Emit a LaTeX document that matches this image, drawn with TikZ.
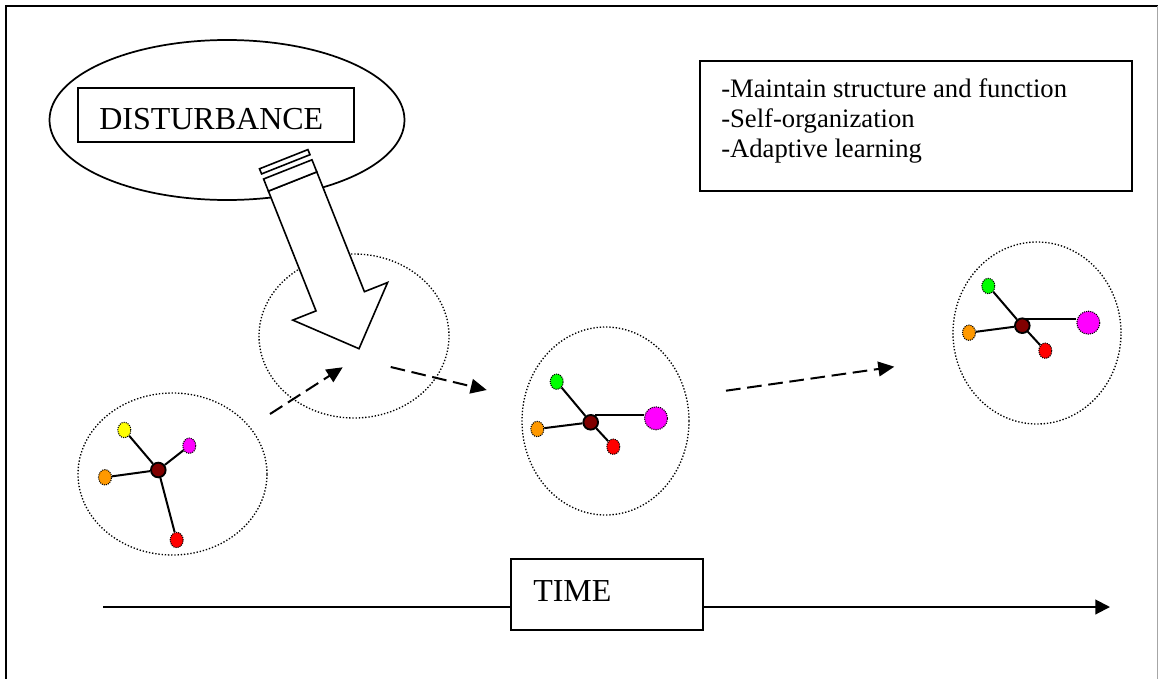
\documentclass[tikz,border=0pt]{standalone}
\usepackage{fontspec}
\setmainfont{Liberation Serif}
\usetikzlibrary{arrows.meta,shapes.geometric}

\begin{document}
\begin{tikzpicture}[x=0.75pt,y=-0.75pt,
  frame/.style={line width=1.5pt},
  boxed/.style={rectangle, draw, line width=1.3pt, inner sep=0pt},
  cloud/.style={ellipse, draw, line width=1.3pt, inner sep=0pt},
  zone/.style={ellipse, draw, inner sep=0pt, line width=1pt, dash pattern=on 1pt off 1.4pt},
  hub/.style={circle, draw, fill=hubred, line width=1.4pt, minimum size=11pt, inner sep=0pt},
  leaf/.style={ellipse, draw, line width=0.8pt, dash pattern=on 0.8pt off 0.8pt, minimum width=9.75pt, minimum height=11.5pt, inner sep=0pt},
  bigleaf/.style={leaf, minimum width=17.25pt, minimum height=17.25pt},
  link/.style={line width=1.5pt},
  drift/.style={line width=1.5pt, dash pattern=on 11pt off 5pt, -{Triangle[length=12pt,width=11pt]}},
  timeline/.style={line width=1.5pt, -{Triangle[length=11pt,width=11pt]}},
  label/.style={inner sep=0pt, font=\fontsize{24}{28}\selectfont},
  note/.style={inner sep=0pt, font=\fontsize{20}{23}\selectfont},
  blockarrow/.style={draw, fill=white, line width=1.2pt, line join=miter}
]
\definecolor{hubred}{RGB}{128,0,0}
\definecolor{leaforange}{RGB}{255,153,0}
\definecolor{leafyellow}{RGB}{255,255,0}
\definecolor{leafmagenta}{RGB}{255,0,255}
\definecolor{leafred}{RGB}{255,0,0}
\definecolor{leafgreen}{RGB}{0,255,0}
\useasboundingbox (0,0) rectangle (1159,678);

% page frame
\draw[frame] (5.5,700) -- (5.5,6) -- (1157.5,6);
\draw[black!35, line width=0.75pt] (1157.5,6) -- (1157.5,700);

% disturbance cloud and its label box
\node[cloud, minimum width=266.25pt, minimum height=120pt] (cloud) at (227,120) {};
\node[boxed, minimum width=207pt, minimum height=40.5pt] (dbox) at (216,115) {};
\node[label, anchor=base west] (dtext) at (99,129) {DISTURBANCE};

% system boundaries
\node[zone, minimum width=141.75pt, minimum height=121.5pt] (z1) at (172.5,474) {};
\node[zone, minimum width=142.5pt, minimum height=123pt] (z2) at (354,336) {};
\node[zone, minimum width=125.25pt, minimum height=141pt] (z3) at (605.5,421) {};
\node[zone, minimum width=126pt, minimum height=136.5pt] (z4) at (1037,333) {};

% initial network
\node[hub] (c1) at (158.3,470) {};
\node[leaf, fill=leafyellow] (y1) at (124.3,430) {};
\node[leaf, fill=leafmagenta] (m1) at (189.3,445.7) {};
\node[leaf, fill=leaforange] (o1) at (105,477.3) {};
\node[leaf, fill=leafred] (r1) at (176.7,540) {};
\draw[link] (c1) -- (y1);
\draw[link] (c1) -- (m1);
\draw[link] (c1) -- (o1);
\draw[link] (c1) -- (r1);

% reorganised network
\node[hub] (c2) at (590.7,422.3) {};
\node[leaf, fill=leafgreen] (g2) at (556.7,381.7) {};
\node[leaf, fill=leaforange] (o2) at (537.3,429) {};
\node[leaf, fill=leafred] (r2) at (613.3,446.7) {};
\node[bigleaf, fill=leafmagenta] (m2) at (656,418.3) {};
\draw[link] (c2) -- (g2);
\draw[link] (c2) -- (o2);
\draw[link] (c2) -- (r2);
\draw[link] (c2.60) -- (m2.west |- c2.60);

% persisting network
\node[hub] (c3) at (1022.3,325.7) {};
\node[leaf, fill=leafgreen] (g3) at (988.3,286) {};
\node[leaf, fill=leaforange] (o3) at (969,332.7) {};
\node[leaf, fill=leafred] (r3) at (1045.3,350.7) {};
\node[bigleaf, fill=leafmagenta] (m3) at (1088.3,322.7) {};
\draw[link] (c3) -- (g3);
\draw[link] (c3) -- (o3);
\draw[link] (c3) -- (r3);
\draw[link] (c3.60) -- (m3.west |- c3.60);

% transitions between states
\coordinate (a1s) at (270,414);
\coordinate (a1e) at (342.7,367.3);
\coordinate (a2s) at (390.7,367);
\coordinate (a2e) at (486.7,390);
\coordinate (a3s) at (726,390.7);
\coordinate (a3e) at (894.3,366.7);
\draw[drift] (a1s) -- (a1e);
\draw[drift] (a2s) -- (a2e);
\draw[drift] (a3s) -- (a3e);

% striped block arrow of the disturbance
\draw[blockarrow] (387.6,282.5) -- (359,348.7) -- (292.8,320.1) -- (316,310.9)
  -- (268.4,191.1) -- (316.8,171.9) -- (364.4,291.7) -- cycle;
\draw[blockarrow] (263.6,179) -- (312,159.8) -- (316.8,171.9) -- (268.4,191.1) -- cycle;
\draw[blockarrow] (259.5,168.8) -- (307.9,149.6) -- (310,154.7) -- (261.6,173.9) -- cycle;

% time axis
\coordinate (t0) at (103,607);
\coordinate (t1) at (1110,607);
\draw[timeline] (t0) -- (t1);
\node[boxed, fill=white, minimum width=144pt, minimum height=53.25pt] (tbox) at (607,594.5) {};
\node[label, anchor=base west] (ttext) at (533,601) {TIME};

% properties list
\node[boxed, minimum width=324pt, minimum height=97.5pt] (lbox) at (916,126) {};
\node[note, anchor=base west] (l1) at (721,97) {-Maintain structure and function};
\node[note, anchor=base west] (l2) at (721,127) {-Self-organization};
\node[note, anchor=base west] (l3) at (721,157) {-Adaptive learning};
\end{tikzpicture}
\end{document}
